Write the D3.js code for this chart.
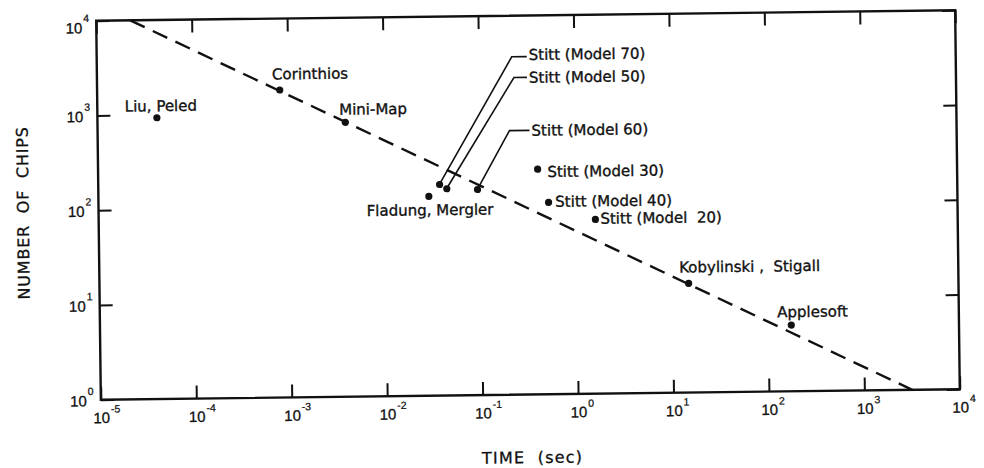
<!DOCTYPE html>
<html><head><meta charset="utf-8">
<script src="https://cdn.jsdelivr.net/npm/d3@7"></script>
<style>
body{margin:0;background:#fff}
svg{display:block}
text{font-family:"DejaVu Sans",sans-serif;fill:#111}
</style>
</head><body><svg id="c" width="984" height="468"></svg>
<script>
// ---- data ----
const names = ["Liu, Peled","Corinthios","Mini-Map","Fladung, Mergler","Stitt (Model 70)","Stitt (Model 50)","Stitt (Model 60)","Stitt (Model 30)","Stitt (Model 40)","Stitt (Model  20)","Kobylinski ,  Stigall","Applesoft"];
const timeSec = [4.2e-5, 8.2e-4, 3.95e-3, 0.029, 0.0377, 0.0448, 0.094, 0.403, 0.52, 1.6, 14.9, 175];
const chips = [930, 1760, 788, 127, 169, 152, 148, 238, 106, 69, 14.2, 5.0];
const lineTime = [2.27e-5, 3180];
const lineChips = [1e4, 1];
const xTickExps = [-5,-4,-3,-2,-1,0,1,2,3,4];
const yTickExps = [0,1,2,3,4];
const xTitle = "TIME  (sec)";
const yTitle = "NUMBER  OF  CHIPS";

// ---- layout (label offsets from dots, px) ----
const labelDx = [-32, -7.5, -6, 64.4, 90.7, 83.5, 54.7, 9.7, 6.7, 5, -9.3, -14];
const labelDy = [-12, -16, -13, 13.5, -128.8, -110.4, -58.5, 2.5, -0.8, -1, -16.3, -13.3];
const labelAnchor = ["start","start","start","end","start","start","start","start","start","start","start","start"];
const leaderElbow = {4:[-17,2], 5:[-15,0], 6:[-22,0]};

const W=984, H=468;
const svg = d3.select("#c");
svg.append("rect").attr("width",W).attr("height",H).attr("fill","#fff");
const cx=527.75, cy=205, tilt=-0.7;
const g = svg.append("g").attr("transform",`rotate(${tilt},${cx},${cy})`);

const x = d3.scaleLog().domain([1e-5,1e4]).range([98.5,957.5]);
const y = d3.scaleLog().domain([1,1e4]).range([394.5,15.5]);
const L=x.range()[0], R=x.range()[1], T=y.range()[1], B=y.range()[0];

const xT = xTickExps.map(e=>Math.pow(10,e));
const yT = yTickExps.map(e=>Math.pow(10,e));
const tk = 13;

function styleAxis(sel){
  sel.select(".domain").remove();
  sel.selectAll(".tick line").attr("stroke","#111").attr("stroke-width",2);
  sel.selectAll(".tick text").remove();
}
g.append("g").attr("transform",`translate(0,${B})`).call(d3.axisBottom(x).tickValues(xT).tickSize(-tk).tickFormat("")).call(styleAxis);
g.append("g").attr("transform",`translate(0,${T})`).call(d3.axisTop(x).tickValues(xT).tickSize(-tk).tickFormat("")).call(styleAxis);
g.append("g").attr("transform",`translate(${L},0)`).call(d3.axisLeft(y).tickValues(yT).tickSize(-tk).tickFormat("")).call(styleAxis);
g.append("g").attr("transform",`translate(${R},0)`).call(d3.axisRight(y).tickValues(yT).tickSize(-tk).tickFormat("")).call(styleAxis);

g.append("rect").attr("x",L).attr("y",T).attr("width",R-L).attr("height",B-T)
  .attr("fill","none").attr("stroke","#111").attr("stroke-width",2.4);

// tick labels
const numFont = "Liberation Sans, Arial, sans-serif";
xTickExps.forEach((e,i)=>{
  const px = x(xT[i]);
  g.append("text").attr("x",px+1).attr("y",B+18).attr("dy","0.36em")
    .attr("text-anchor","end").attr("dx","8")
    .style("font-family",numFont).style("font-size","15px")
    .attr("stroke","#111").attr("stroke-width",0.3).text("10");
  g.append("text").attr("x",px+10).attr("y",B+13)
    .attr("text-anchor","start").style("font-family",numFont).style("font-size","10.5px")
    .attr("stroke","#111").attr("stroke-width",0.25).text(String(e));
});
yTickExps.forEach((e,i)=>{
  const py = y(yT[i]);
  g.append("text").attr("x",L-14).attr("y",py+(e===4?7:1)).attr("dy","0.36em")
    .attr("text-anchor","end").style("font-family",numFont).style("font-size","15px")
    .attr("stroke","#111").attr("stroke-width",0.3).text("10");
  g.append("text").attr("x",L-13).attr("y",py+(e===4?1:-5))
    .attr("text-anchor","start").style("font-family",numFont).style("font-size","10.5px")
    .attr("stroke","#111").attr("stroke-width",0.25).text(String(e));
});

// dashed fit line
const lineData = lineTime.map((t,i)=>({t, c: lineChips[i]}));
g.append("path").datum(lineData)
  .attr("d", d3.line().x(d=>x(d.t)).y(d=>y(d.c)))
  .attr("fill","none").attr("stroke","#111").attr("stroke-width",2.4)
  .attr("stroke-dasharray","16,9");

// points
const pts = names.map((n,i)=>({n, t: timeSec[i], c: chips[i], i}));
g.selectAll("circle.pt").data(pts).join("circle").attr("class","pt")
  .attr("cx",d=>x(d.t)).attr("cy",d=>y(d.c)).attr("r",3.6).attr("fill","#111");

// leaders
pts.filter(d=>leaderElbow[d.i]).forEach(d=>{
  const px=x(d.t), py=y(d.c);
  const lx=px+labelDx[d.i], ly=py+labelDy[d.i];
  const el=leaderElbow[d.i];
  g.append("polyline")
    .attr("points",[[lx-2,ly+el[1]],[lx+el[0],ly+el[1]],[px+1,py-2]].map(p=>p.join(",")).join(" "))
    .attr("fill","none").attr("stroke","#111").attr("stroke-width",1.6);
});

// labels
g.selectAll("text.lab").data(pts).join("text").attr("class","lab")
  .attr("x",d=>x(d.t)+labelDx[d.i]).attr("y",d=>y(d.c)+labelDy[d.i]).attr("dy","0.36em")
  .attr("text-anchor",d=>labelAnchor[d.i])
  .style("font-size","15px").style("white-space","pre")
  .attr("stroke","#111").attr("stroke-width",0.35)
  .text(d=>d.n);

// axis titles
svg.append("text").attr("x",482).attr("y",458).attr("dy","0.36em")
  .attr("transform",`rotate(${tilt},482,458)`)
  .style("font-size","16px").style("letter-spacing","1.2px").style("white-space","pre")
  .attr("stroke","#111").attr("stroke-width",0.3)
  .text(xTitle);
svg.append("text").attr("transform",`translate(23,213) rotate(${-90+tilt})`)
  .attr("text-anchor","middle").attr("dy","0.36em")
  .style("font-size","16px").style("letter-spacing","0.8px").style("white-space","pre")
  .attr("stroke","#111").attr("stroke-width",0.3)
  .text(yTitle);
</script>
</body></html>
